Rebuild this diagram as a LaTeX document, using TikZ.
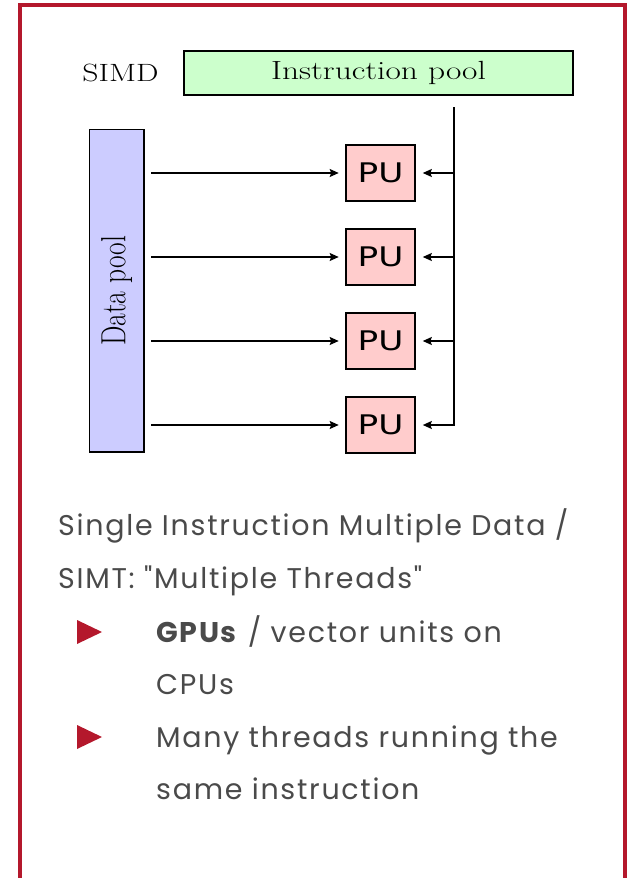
\documentclass[tikz,border=0pt]{standalone}
\usepackage{graphicx}
\usepackage{fontspec}
\usetikzlibrary{arrows.meta}

\newfontfamily\slidefont[Ligatures=NoCommon, LetterSpace=6]{Poppins}
\newfontfamily\pufont{DejaVu Sans}

\definecolor{framered}{RGB}{180,24,44}
\definecolor{textgray}{RGB}{74,74,74}
\definecolor{poolgreen}{RGB}{204,255,204}
\definecolor{poolblue}{RGB}{204,204,255}
\definecolor{pupink}{RGB}{255,204,204}

% the svg figure is stretched sideways
\newcommand{\wide}[1]{\scalebox{1.27}[1]{#1}}

\tikzset{
  pool/.style = {draw, line width=1.6pt, inner sep=0pt},
  pubox/.style = {draw, line width=1.6pt, fill=pupink,
                  minimum width=69pt, minimum height=56pt, inner sep=0pt,
                  font=\pufont\fontsize{27}{27}\selectfont},
  feed/.style = {line width=1.5pt, -{Stealth[length=9pt,width=8pt,inset=1.5pt]}},
  slide/.style = {anchor=base west, inner sep=0pt, text=textgray,
                  font=\slidefont\fontsize{28.5}{34}\selectfont}
}

\begin{document}
\begin{tikzpicture}[x=1pt, y=-1pt]
\useasboundingbox (0,0) rectangle (631,878);

% frame, open at the bottom
\draw[framered, line width=4pt] (20,890) -- (20,4.7) -- (625.3,4.7) -- (625.3,890);

\node[font=\fontsize{25}{25}\selectfont] (simd) at (120.5,73.3) {\wide{SIMD}};
\node[pool, fill=poolgreen, minimum width=389pt, minimum height=44pt,
      font=\fontsize{26.3}{26.3}\selectfont] (ipool) at (378.5,73) {\wide{Instruction pool}};
\node[pool, fill=poolblue, minimum width=54.5pt, minimum height=322.5pt,
      font=\fontsize{27.5}{27.5}\selectfont] (dpool) at (116.75,290.75)
      {\rotatebox{90}{\scalebox{1}[1.27]{Data pool}}};

\foreach \i/\y in {1/173, 2/257, 3/341, 4/425}
  \node[pubox] (pu\i) at (380.5,\y) {\wide{PU}};

% data lines
\foreach \i in {1,...,4}
  \draw[feed, shorten <=6.6pt, shorten >=6.5pt] (dpool.east |- pu\i.west) -- (pu\i.west);

% instruction bus
\coordinate (bus) at (454,107);
\draw[feed, shorten >=7pt] (bus) |- (pu4.east);
\foreach \i in {1,...,3}
  \draw[feed, shorten >=7pt] (bus |- pu\i.east) -- (pu\i.east);

% text below
\node[slide] (line1) at (58,535) {Single Instruction Multiple Data /};
\node[slide] (line2) at (58,588) {SIMT: "Multiple Threads"};
\node[slide] (item1) at (156,642.5) {\textbf{GPUs} / vector units on};
\node[slide] (item1b) at (156,694) {CPUs};
\node[slide] (item2) at (156,747) {Many threads running the};
\node[slide] (item2b) at (156,799) {same instruction};

\foreach \y in {632, 737}
  \fill[framered] (77,\y-12) -- (102,\y) -- (77,\y+12) -- cycle;

\end{tikzpicture}
\end{document}
